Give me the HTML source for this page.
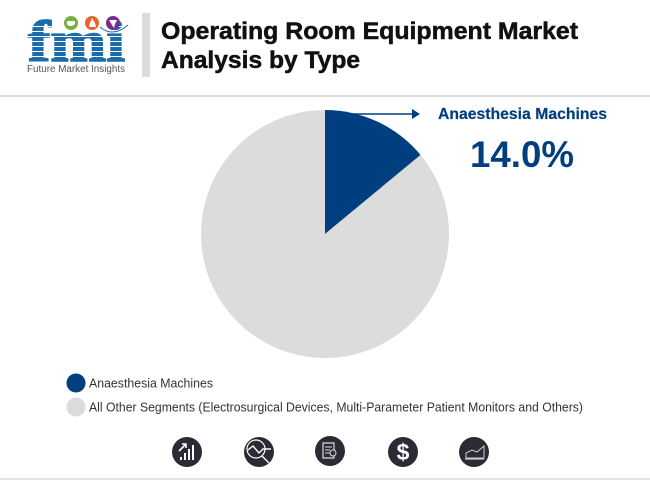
<!DOCTYPE html>
<html lang="en">
<head>
<meta charset="utf-8">
<title>Operating Room Equipment Market Analysis by Type</title>
<style>
html,body{margin:0;padding:0;background:#fff;}
body{width:650px;height:480px;overflow:hidden;}
svg{display:block;font-family:"Liberation Sans",sans-serif;}
</style>
</head>
<body>
<svg id="chart" width="650" height="480" viewBox="0 0 650 480" xmlns="http://www.w3.org/2000/svg">
  <rect width="650" height="480" fill="#fff"/>

  <g>
    <text x="28" y="61" font-family="Liberation Serif, serif" font-weight="700" font-size="58" fill="#1a6cab" stroke="#1a6cab" stroke-width="1.6" textLength="97" lengthAdjust="spacingAndGlyphs">fmi</text>
    <g fill="#fff">
      <rect x="26" y="26" width="102" height="1"/><rect x="26" y="31" width="102" height="1"/>
      <rect x="26" y="36" width="102" height="1"/><rect x="26" y="41" width="102" height="1"/>
      <rect x="26" y="46" width="102" height="1"/><rect x="26" y="51" width="102" height="1"/>
      <rect x="26" y="56" width="102" height="1"/>
    </g>
    <path d="M100 27 Q113 38 128 25" fill="none" stroke="#1a6cab" stroke-width="1"/>
    <circle cx="71" cy="23" r="7" fill="#76b043"/>
    <circle cx="92" cy="23" r="7" fill="#e8622a"/>
    <circle cx="113" cy="23" r="7" fill="#7b2d8b"/>
    <path d="M67 21h8v3l-3 2h-3l-2-2z" fill="#fff"/>
    <path d="M92 18l3 5 1 4h-7l1-4z" fill="#fff"/>
    <path d="M109 20h8l-2 4-1 4-2-3z" fill="#fff"/>
    <text x="27" y="72" font-size="10" fill="#555" textLength="98" lengthAdjust="spacingAndGlyphs">Future Market Insights</text>
  </g>

  <rect x="142" y="13" width="8" height="64" fill="#dcdcdc"/>
  <text x="161" y="39" font-size="24" font-weight="700" fill="#111" stroke="#111" stroke-width="0.5" textLength="417" lengthAdjust="spacingAndGlyphs">Operating Room Equipment Market</text>
  <text x="161" y="68" font-size="24" font-weight="700" fill="#111" stroke="#111" stroke-width="0.5" textLength="199" lengthAdjust="spacingAndGlyphs">Analysis by Type</text>
  <rect x="0" y="95" width="650" height="2" fill="#e0e0e0"/>

  <g id="pie"></g>

  <g>
    <line x1="325" y1="114" x2="414" y2="114" stroke="#003f7f" stroke-width="1.5"/>
    <path d="M412 109l8 5-8 5z" fill="#003f7f"/>
    <text id="callout-label" x="438" y="119" font-size="16" font-weight="700" fill="#003f7f" stroke="#003f7f" stroke-width="0.2" textLength="169" lengthAdjust="spacingAndGlyphs"></text>
    <text id="callout-value" x="470" y="167" font-size="37" font-weight="700" fill="#003f7f" textLength="104" lengthAdjust="spacingAndGlyphs"></text>
  </g>

  <g id="legend"></g>

  <g fill="#2b2b36">
    <g>
      <circle cx="187" cy="452" r="15"/>
      <path d="M180 457h2v3h-2zM184 453h2v7h-2zM188 449h2v11h-2zM192 445h2v15h-2z" fill="#fff"/>
      <path d="M179 451l7-7M182 444h4v4" fill="none" stroke="#fff" stroke-width="1.6"/>
    </g>
    <g>
      <circle cx="259" cy="452" r="15"/>
      <circle cx="256" cy="449" r="9" fill="none" stroke="#fff" stroke-width="1.2"/>
      <path d="M248 450l5-4 6 7 4-4h8M262 456l7 7" fill="none" stroke="#fff" stroke-width="1.4"/>
    </g>
    <g>
      <circle cx="330" cy="451" r="15"/>
      <path d="M323 443h11v15h-11z" fill="none" stroke="#ddd" stroke-width="1.2"/>
      <path d="M325 447h7M325 450h5M325 453h5" fill="none" stroke="#ddd" stroke-width="1"/>
      <circle cx="333" cy="453" r="3" fill="#2b2b36" stroke="#ddd" stroke-width="1"/>
    </g>
    <g>
      <circle cx="403" cy="452" r="15"/>
      <text x="403" y="460" text-anchor="middle" font-size="23" font-weight="700" fill="#fff">$</text>
    </g>
    <g>
      <circle cx="474" cy="452" r="15"/>
      <path d="M466 458v-5l6-3 5 2 7-6v12z" fill="none" stroke="#ccc" stroke-width="1"/>
      <path d="M465 459h19" stroke="#ccc" stroke-width="1.2"/>
    </g>
  </g>

  <rect x="0" y="478" width="650" height="2" fill="#e4e4e4"/>
</svg>
<script>
const categories = ["Anaesthesia Machines", "All Other Segments (Electrosurgical Devices, Multi-Parameter Patient Monitors and Others)"];
const seriesValues = [14.0, 86.0];
const seriesColors = ["#003f7f", "#dcdcdc"];
const NS = "http://www.w3.org/2000/svg";
const cx = 325, cy = 234, radius = 124;
const pie = document.getElementById("pie");
const legend = document.getElementById("legend");
const total = seriesValues.reduce(function (a, b) { return a + b; }, 0);
function angleOf(v) { return v / total * 2 * Math.PI; }
function pointAt(a) { return [cx + radius * Math.sin(a), cy - radius * Math.cos(a)]; }
let start = 0;
seriesValues.forEach(function (v, i) {
  const end = start + angleOf(v);
  const p0 = pointAt(start), p1 = pointAt(end);
  const large = end - start > Math.PI ? 1 : 0;
  const slice = document.createElementNS(NS, "path");
  slice.setAttribute("d", "M" + cx + " " + cy + "L" + p0[0] + " " + p0[1] + "A" + radius + " " + radius + " 0 " + large + " 1 " + p1[0] + " " + p1[1] + "Z");
  slice.setAttribute("fill", seriesColors[i]);
  
  
  pie.appendChild(slice);
  start = end;

  const rowY = 383 + i * 24;
  const swatch = document.createElementNS(NS, "circle");
  swatch.setAttribute("cx", 76);
  swatch.setAttribute("cy", rowY);
  swatch.setAttribute("r", 9.5);
  swatch.setAttribute("fill", seriesColors[i]);
  
  
  legend.appendChild(swatch);
  const label = document.createElementNS(NS, "text");
  label.setAttribute("x", 89);
  label.setAttribute("y", rowY + 4.5);
  label.setAttribute("font-size", 12.5);
  label.setAttribute("fill", "#333");
  label.setAttribute("textLength", i === 0 ? 124 : 494);
  label.setAttribute("lengthAdjust", "spacingAndGlyphs");
  label.textContent = categories[i];
  
  
  legend.appendChild(label);
});
document.getElementById("callout-label").textContent = categories[0];
document.getElementById("callout-value").textContent = seriesValues[0].toFixed(1) + "%";
</script>
</body>
</html>
